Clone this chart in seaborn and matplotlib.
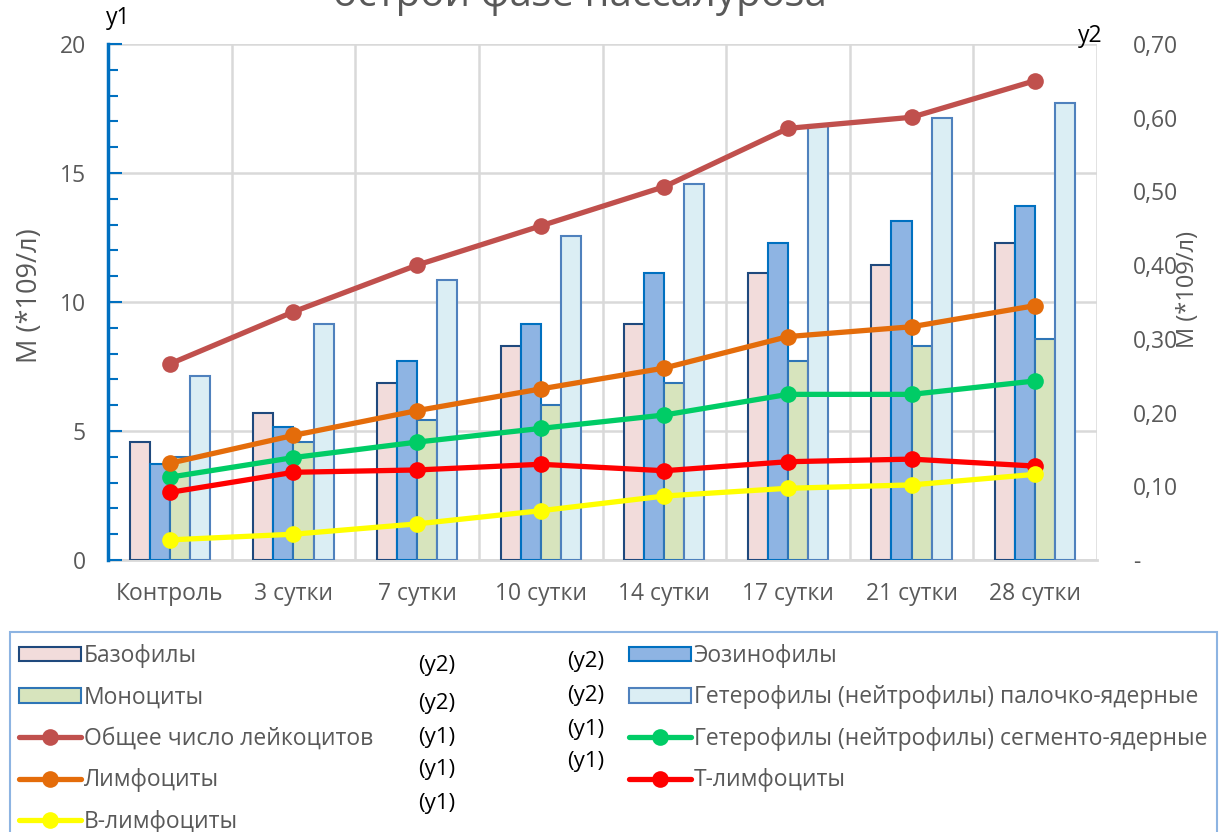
import numpy as np
import pandas as pd
import matplotlib
matplotlib.use("Agg")
import matplotlib.pyplot as plt
from matplotlib.patches import Patch, Rectangle
from matplotlib.lines import Line2D
import seaborn as sns

# ---- data -------------------------------------------------------------
categories = ["Контроль", "3 сутки", "7 сутки", "10 сутки",
              "14 сутки", "17 сутки", "21 сутки", "28 сутки"]

# bar series, right axis (y2), М (*10^9/л)
bar_series = ["Базофилы", "Эозинофилы", "Моноциты",
              "Гетерофилы (нейтрофилы) палочко-ядерные"]
basophils = [0.160, 0.200, 0.240, 0.290, 0.320, 0.390, 0.400, 0.430]
eosinophils = [0.130, 0.180, 0.270, 0.320, 0.390, 0.430, 0.460, 0.480]
monocytes = [0.140, 0.160, 0.190, 0.210, 0.240, 0.270, 0.290, 0.300]
band_neutrophils = [0.250, 0.320, 0.380, 0.440, 0.510, 0.590, 0.600, 0.620]

# line series, left axis (y1), М (*10^9/л)
line_series = ["Общее число лейкоцитов",
               "Гетерофилы (нейтрофилы) сегменто-ядерные",
               "Лимфоциты", "Т-лимфоциты", "В-лимфоциты"]
leukocytes = [7.60, 9.62, 11.43, 12.95, 14.47, 16.73, 17.16, 18.58]
segmented_neutrophils = [3.21, 3.97, 4.57, 5.10, 5.62, 6.42, 6.42, 6.94]
lymphocytes = [3.75, 4.83, 5.79, 6.63, 7.44, 8.66, 9.04, 9.86]
t_lymphocytes = [2.62, 3.40, 3.49, 3.71, 3.46, 3.81, 3.91, 3.64]
b_lymphocytes = [0.78, 1.00, 1.40, 1.91, 2.48, 2.78, 2.91, 3.32]

y1_ticks = [0, 5, 10, 15, 20]
y2_ticks = [0.0, 0.1, 0.2, 0.3, 0.4, 0.5, 0.6, 0.7]
y2_ticklabels = ["-", "0,10", "0,20", "0,30", "0,40", "0,50", "0,60", "0,70"]

# ---- styles -----------------------------------------------------------
bar_fill = {"Базофилы": "#F2DCDB", "Эозинофилы": "#8EB4E3",
            "Моноциты": "#D7E4BD",
            "Гетерофилы (нейтрофилы) палочко-ядерные": "#DBEEF4"}
bar_edge = {"Базофилы": "#1F497D", "Эозинофилы": "#0070C0",
            "Моноциты": "#2E75B6",
            "Гетерофилы (нейтрофилы) палочко-ядерные": "#4F81BD"}
line_colors = {"Общее число лейкоцитов": "#C0504D",
               "Гетерофилы (нейтрофилы) сегменто-ядерные": "#00CC66",
               "Лимфоциты": "#E46C0A", "Т-лимфоциты": "#FF0000",
               "В-лимфоциты": "#FFFF00"}

sns.set_style("white")
plt.rcParams["font.family"] = ["Open Sans", "DejaVu Sans"]
TEXT = "#595959"
GRID = "#D9D9D9"
LW, MS = 3.8, 12

bars_df = pd.DataFrame({
    "Срок": np.tile(categories, len(bar_series)),
    "Показатель": np.repeat(bar_series, len(categories)),
    "M": np.concatenate([basophils, eosinophils, monocytes, band_neutrophils]),
})
lines_df = pd.DataFrame({
    "Срок": np.tile(categories, len(line_series)),
    "Показатель": np.repeat(line_series, len(categories)),
    "M": np.concatenate([leukocytes, segmented_neutrophils, lymphocytes,
                         t_lymphocytes, b_lymphocytes]),
})

# ---- figure -----------------------------------------------------------
W, H = 1219, 832
fig = plt.figure(figsize=(W / 100, H / 100), dpi=100)
left, right, bottom, top = 108 / W, 1097 / W, 1 - 560 / H, 1 - 44 / H
ax = fig.add_axes([left, bottom, right - left, top - bottom])   # grid layer
ax_bar = ax.twinx()                                               # y2 bars
ax_line = ax.twinx()                                              # y1 lines

sns.barplot(data=bars_df, x="Срок", y="M", hue="Показатель",
            order=categories, hue_order=bar_series, palette=bar_fill,
            width=0.65, saturation=1, errorbar=None, legend=False,
            linewidth=1.5, ax=ax_bar)
for container, name in zip(ax_bar.containers, bar_series):
    for patch in container:
        patch.set_edgecolor(bar_edge[name])

sns.pointplot(data=lines_df, x="Срок", y="M", hue="Показатель",
              order=categories, hue_order=line_series, palette=line_colors,
              errorbar=None, markers="o", linestyles="-", legend=False,
              markersize=MS, linewidth=LW, ax=ax_line)
for ln in ax_line.lines:
    ln.set_markeredgewidth(0)

# grid layer
ax.set_ylim(0, 20)
ax.set_yticks(y1_ticks)
ax.tick_params(axis="y", left=False, right=False,
               labelleft=False, labelright=False)
ax.grid(axis="y", color=GRID, lw=1.8)
ax.set_xticks(np.arange(-0.5, len(categories), 1), minor=True)
ax.set_xticks(range(len(categories)), categories)
ax.grid(axis="x", which="minor", color=GRID, lw=1.8)
ax.grid(axis="x", which="major", visible=False)
ax.tick_params(axis="x", which="both", length=0, pad=16,
               labelsize=16.5, labelcolor=TEXT)
ax.set_xlim(-0.5, len(categories) - 0.5)
for s in ["left", "top", "right"]:
    ax.spines[s].set_visible(False)
ax.spines["bottom"].set_color(GRID)
ax.spines["bottom"].set_linewidth(2)
ax.set_xlabel("")
ax.set_ylabel("")

# right axis (bars)
ax_bar.set_ylim(0, 0.7)
ax_bar.set_yticks(y2_ticks, y2_ticklabels)
ax_bar.tick_params(axis="y", length=0, pad=26, labelsize=16.5,
                   labelcolor=TEXT)
for s in ax_bar.spines.values():
    s.set_visible(False)
ax_bar.set_xlabel("")
ax_bar.set_ylabel("")

# left axis (lines)
ax_line.set_ylim(0, 20)
ax_line.yaxis.tick_left()
ax_line.set_yticks(y1_ticks)
ax_line.set_yticks(np.arange(0, 21, 1), minor=True)
ax_line.tick_params(axis="y", which="major", direction="in", length=10,
                    width=1.5, color="#0070C0", pad=16, labelsize=16.5,
                    labelcolor=TEXT)
ax_line.tick_params(axis="y", which="minor", direction="in", length=7,
                    width=1.5, color="#0070C0")
for s in ["top", "right", "bottom"]:
    ax_line.spines[s].set_visible(False)
ax_line.spines["left"].set_visible(True)
ax_line.spines["left"].set_color("#0070C0")
ax_line.spines["left"].set_linewidth(2.5)
ax_line.set_xlabel("")
ax_line.set_ylabel("")
ax_line.set_xlim(-0.5, len(categories) - 0.5)

# axis titles and labels
fig.text(30 / W, 1 - 296 / H, "М (*109/л)", rotation=90, ha="center",
         va="center", fontsize=19.5, color=TEXT)
fig.text(1188 / W, 1 - 290 / H, "М (*109/л)", rotation=90, ha="center",
         va="center", fontsize=17, color=TEXT)
fig.text(118 / W, 1 - 18 / H, "y1", ha="center", va="center",
         fontsize=16.5, color="black")
fig.text(1090 / W, 1 - 36 / H, "y2", ha="center", va="center",
         fontsize=16.5, color="black")
fig.text(580 / W, 1 - 6 / H, "острой фазе пассалуроза", ha="center",
         va="baseline", fontsize=29, color=TEXT)

# ---- legend -----------------------------------------------------------
def bar_handle(name):
    return Patch(facecolor=bar_fill[name], edgecolor=bar_edge[name], lw=1.5)

def line_handle(name):
    return Line2D([], [], color=line_colors[name], lw=LW, marker="o",
                  markersize=MS, markeredgewidth=0)

col1 = [("Базофилы", bar_handle), ("Моноциты", bar_handle),
        ("Общее число лейкоцитов", line_handle), ("Лимфоциты", line_handle),
        ("В-лимфоциты", line_handle)]
col2 = [("Эозинофилы", bar_handle),
        ("Гетерофилы (нейтрофилы) палочко-ядерные", bar_handle),
        ("Гетерофилы (нейтрофилы) сегменто-ядерные", line_handle),
        ("Т-лимфоциты", line_handle)]

leg_kw = dict(loc="upper left", frameon=False, fontsize=16.5,
              labelcolor=TEXT, handlelength=2.7, handleheight=0.6,
              handletextpad=0.12, labelspacing=0.76, borderpad=0,
              borderaxespad=0)
for cols, x0 in [(col1, 19), (col2, 629)]:
    fig.legend(handles=[f(n) for n, f in cols], labels=[n for n, _ in cols],
               bbox_to_anchor=(x0 / W, 1 - 644 / H), **leg_kw)

for txt, ypx in zip(["(y2)", "(y2)", "(y1)", "(y1)", "(y1)"],
                    [665, 703, 738, 770, 803]):
    fig.text(437 / W, 1 - ypx / H, txt, ha="center", va="center",
             fontsize=16, color="black")
for txt, ypx in zip(["(y2)", "(y2)", "(y1)", "(y1)"], [661, 696, 730, 762]):
    fig.text(586 / W, 1 - ypx / H, txt, ha="center", va="center",
             fontsize=16, color="black")

fig.add_artist(Rectangle((10 / W, -0.01), (1217 - 10) / W, 0.01 + 1 - 632 / H,
                         transform=fig.transFigure, fill=False,
                         edgecolor="#8DB4E2", lw=1.5))

fig.savefig("out.png", dpi=100)
